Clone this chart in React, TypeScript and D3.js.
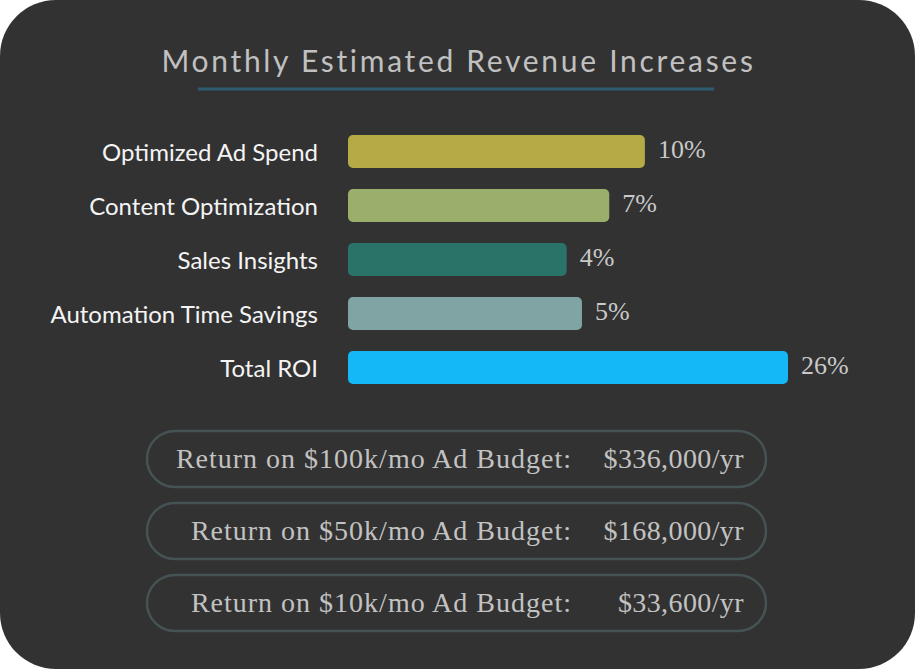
import React from "react";
import * as d3 from "d3";

const W = 915;
const H = 669;

const categories = [
  "Optimized Ad Spend",
  "Content Optimization",
  "Sales Insights",
  "Automation Time Savings",
  "Total ROI"
];
const increases = [10, 7, 4, 5, 26];
const barColors = ["#b4ab46", "#9aaf6b", "#2a7369", "#7fa4a3", "#13b8f4"];

const budgetLabels = [
  "Return on $100k/mo Ad Budget:",
  "Return on $50k/mo Ad Budget:",
  "Return on $10k/mo Ad Budget:"
];
const budgetReturns = ["$336,000/yr", "$168,000/yr", "$33,600/yr"];

const serif = "'Liberation Serif', 'DejaVu Serif', serif";
const sans = "Lato, 'Open Sans', sans-serif";

const App = () => {
  // bars are not drawn linearly in the original, a power scale fits them best
  const x = d3.scalePow().exponent(0.6).domain([0, 26]).range([460, 788]);
  const y = d3
    .scaleBand<string>()
    .domain(categories)
    .range([135, 384])
    .paddingInner(0.389)
    .paddingOuter(0);

  const pillY = d3
    .scaleBand<string>()
    .domain(budgetLabels)
    .range([431, 631])
    .paddingInner(0.22)
    .paddingOuter(0);

  const x0 = 348;

  return (
    <div style={{ position: "absolute", left: 0, top: 0 }}>
      <svg width={W} height={H} style={{ display: "block", background: "#ffffff" }}>
        <rect x={0} y={0} width={W} height={H} rx={56} ry={56} fill="#323232" />

        <text
          x={W / 2 + 1}
          y={72}
          textAnchor="middle"
          fill="#c0c0c0"
          fontFamily={sans}
          fontSize={30}
          letterSpacing={2.7}
        >
          Monthly Estimated Revenue Increases
        </text>
        <line x1={198} x2={714} y1={89} y2={89} stroke="#2d5c71" strokeWidth={3} />

        {categories.map((c, i) => {
          const cy = (y(c) as number) + y.bandwidth() / 2;
          return (
            <g key={c}>
              <text
                x={318}
                y={cy + 9.5}
                textAnchor="end"
                fill="#f4f4f4"
                fontFamily={sans}
                fontSize={24}
              >
                {c}
              </text>
              <rect
                x={x0}
                y={y(c)}
                width={x(increases[i]) - x0}
                height={y.bandwidth()}
                rx={5}
                fill={barColors[i]}
              />
              <text
                x={x(increases[i]) + 13}
                y={cy + 6.5}
                fill="#c9c9c9"
                fontFamily={serif}
                fontSize={26}
              >
                {increases[i] + "%"}
              </text>
            </g>
          );
        })}

        {budgetLabels.map((b, i) => {
          const py = pillY(b) as number;
          const h = pillY.bandwidth();
          return (
            <g key={b}>
              <rect
                x={147}
                y={py}
                width={619}
                height={h}
                rx={h / 2}
                fill="none"
                stroke="#455354"
                strokeWidth={2.5}
              />
              <text
                x={572}
                y={py + h / 2 + 9}
                textAnchor="end"
                fill="#c2c2c2"
                fontFamily={serif}
                fontSize={28}
                letterSpacing={1}
              >
                {b}
              </text>
              <text
                x={744}
                y={py + h / 2 + 9}
                textAnchor="end"
                fill="#c2c2c2"
                fontFamily={serif}
                fontSize={28}
                letterSpacing={0.4}
              >
                {budgetReturns[i]}
              </text>
            </g>
          );
        })}
      </svg>
    </div>
  );
};

export default App;
